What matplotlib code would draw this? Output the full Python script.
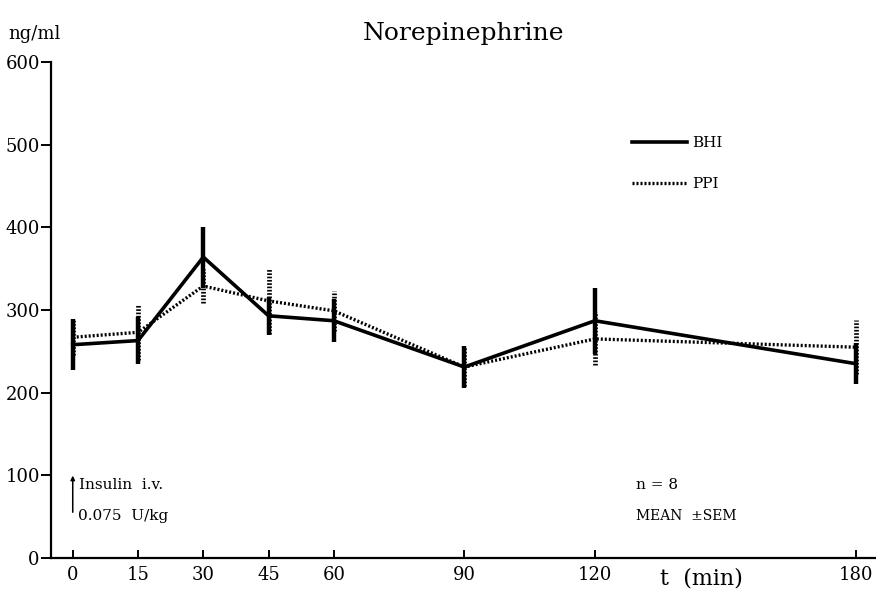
import matplotlib
matplotlib.use('Agg')
import matplotlib.pyplot as plt
from matplotlib.lines import Line2D
import numpy as np

plt.rcParams['font.family'] = ['DejaVu Serif']

t = [0, 15, 30, 45, 60, 90, 120, 180]
bhi_mean = [258, 263, 364, 293, 287, 231, 287, 235]
bhi_sem = [31, 28, 37, 23, 26, 25, 40, 25]
ppi_mean = [267, 273, 329, 311, 299, 231, 265, 255]
ppi_sem = [22, 33, 20, 40, 24, 23, 32, 33]
xticks = [0, 15, 30, 45, 60, 90, 120, 180]
yticks = [0, 100, 200, 300, 400, 500, 600]

fig = plt.figure(figsize=(8.76, 5.95), dpi=100)
ax = fig.add_axes([0.0582, 0.0622, 0.9418, 0.8336])

dots = (0, (0.6, 0.6))
# BHI: solid line, solid error bars
ax.errorbar(t, bhi_mean, yerr=bhi_sem, color='black', lw=2.6, elinewidth=3.2,
            capsize=0, zorder=3)
# PPI: dotted line, dotted error bars
eb = ax.errorbar(t, ppi_mean, yerr=ppi_sem, color='black', lw=2.4, ls=dots,
                 elinewidth=3.4, capsize=0, zorder=2)
eb[2][0].set_linestyle((0, (0.35, 0.35)))

ax.set_xlim(-5, 184.6)
ax.set_ylim(0, 600)
ax.spines['top'].set_visible(False)
ax.spines['right'].set_visible(False)
ax.spines['left'].set_linewidth(1.6)
ax.spines['bottom'].set_linewidth(1.6)
ax.set_xticks(xticks)
ax.set_yticks(yticks)
ax.tick_params(axis='x', direction='in', length=6, width=1.4, labelsize=13, pad=6)
ax.tick_params(axis='y', direction='out', length=7, width=1.4, labelsize=13, pad=1)

ax.set_title('Norepinephrine', fontsize=18, pad=16)
fig.text(0.009, 0.935, 'ng/ml', fontsize=13)
fig.text(0.753, 0.018, 't  (min)', fontsize=16)

handles = [Line2D([], [], color='black', lw=2.6),
           Line2D([], [], color='black', lw=2.4, ls=dots)]
ax.legend(handles, ['BHI', 'PPI'], loc='upper left', bbox_to_anchor=(0.687, 0.878),
          frameon=False, fontsize=11, handlelength=3.6, labelspacing=1.75,
          handletextpad=0.4)

ax.annotate('', xy=(0, 103), xytext=(0, 52),
            arrowprops=dict(arrowstyle='-|>', color='black', lw=1.1, mutation_scale=6))
ax.text(1.4, 88, 'Insulin  i.v.', fontsize=11, va='center')
ax.text(1.2, 51, '0.075  U/kg', fontsize=11, va='center')
ax.text(129.5, 88, 'n = 8', fontsize=11, va='center')
ax.text(129.5, 51, 'MEAN  ±SEM', fontsize=10, va='center')

plt.savefig('out.png', dpi=100)
